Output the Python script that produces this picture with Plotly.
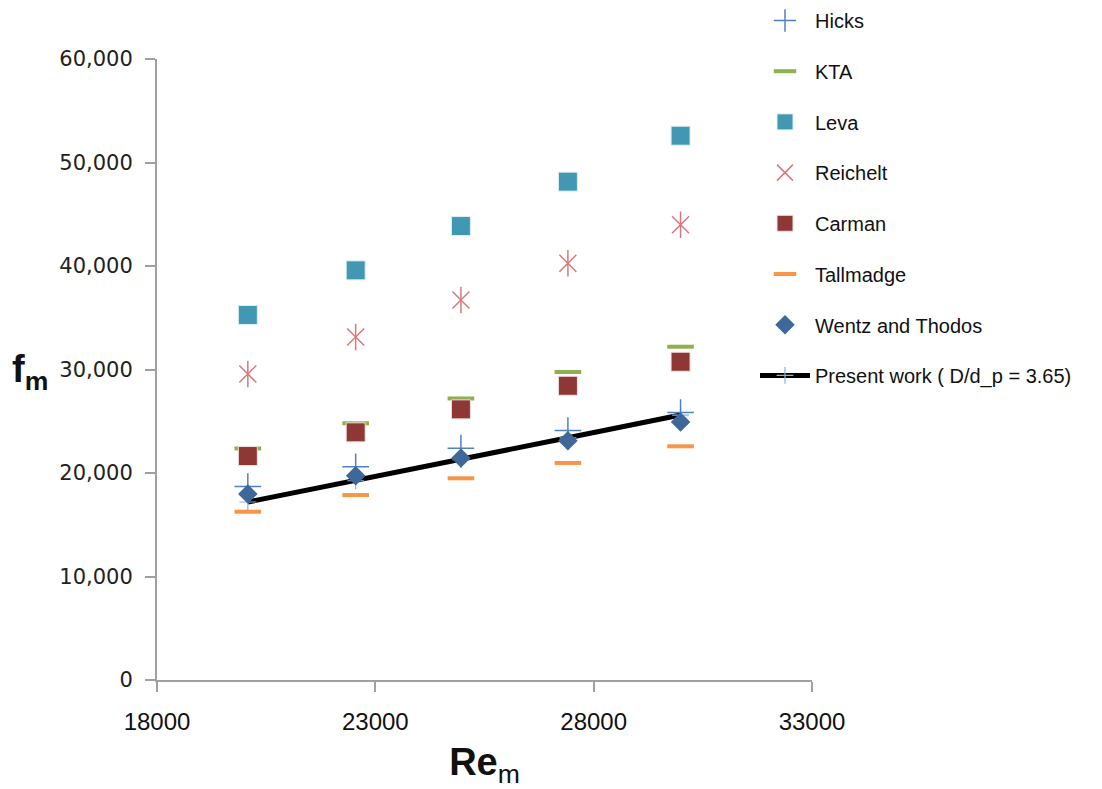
import plotly.graph_objects as go

# Modified Reynolds number
re_m = [20080, 22550, 24960, 27410, 29990]

# Friction factor from each correlation
hicks = [18700, 20600, 22400, 24100, 25850]
kta = [22370, 24800, 27200, 29760, 32200]
leva = [35270, 39580, 43860, 48150, 52590]
reichelt = [29570, 33140, 36710, 40260, 43990]
carman = [21640, 23930, 26150, 28430, 30750]
tallmadge = [16260, 17870, 19490, 20970, 22580]
wentz_thodos = [17970, 19740, 21450, 23120, 24930]
present_work = [17200, 19250, 21300, 23400, 25600]

fig = go.Figure()

# Present work line (drawn first so markers sit on top)
fig.add_trace(go.Scatter(
    x=re_m, y=present_work, name="Present work ( D/d_p = 3.65)",
    mode="lines+markers", legendgroup="g8", legendrank=8,
    line=dict(color="black", width=5),
    marker=dict(symbol="cross-thin", size=12, color="#8fb0d8",
                line=dict(color="#8fb0d8", width=1.2)),
))

fig.add_trace(go.Scatter(
    x=re_m, y=hicks, name="Hicks", mode="markers",
    legendgroup="g1", legendrank=1,
    marker=dict(symbol="cross-thin", size=19, color="#4F81BD",
                line=dict(color="#4F81BD", width=1.5)),
))
fig.add_trace(go.Scatter(
    x=re_m, y=kta, name="KTA", mode="markers",
    legendgroup="g2", legendrank=2,
    marker=dict(symbol="line-ew", size=19, color="#8DB050",
                line=dict(color="#8DB050", width=4)),
))
fig.add_trace(go.Scatter(
    x=re_m, y=leva, name="Leva", mode="markers",
    legendgroup="g3", legendrank=3,
    marker=dict(symbol="square", size=19, color="#4298B2",
                line=dict(color="#dff0f5", width=1)),
))
fig.add_trace(go.Scatter(
    x=re_m, y=reichelt, name="Reichelt", mode="markers",
    legendgroup="g4", legendrank=4,
    marker=dict(symbol="x-thin", size=17, color="#D9787A",
                line=dict(color="#D9787A", width=1.5)),
))
fig.add_trace(go.Scatter(
    x=re_m, y=reichelt, name="Reichelt", mode="markers",
    legendgroup="g4", showlegend=False, hoverinfo="skip",
    marker=dict(symbol="line-ns", size=19, color="#D9787A",
                line=dict(color="#D9787A", width=1.5)),
))
fig.add_trace(go.Scatter(
    x=re_m, y=carman, name="Carman", mode="markers",
    legendgroup="g5", legendrank=5,
    marker=dict(symbol="square", size=19, color="#8E3836",
                line=dict(color="#f3dede", width=1)),
))
fig.add_trace(go.Scatter(
    x=re_m, y=tallmadge, name="Tallmadge", mode="markers",
    legendgroup="g6", legendrank=6,
    marker=dict(symbol="line-ew", size=19, color="#F79646",
                line=dict(color="#F79646", width=4)),
))
fig.add_trace(go.Scatter(
    x=re_m, y=wentz_thodos, name="Wentz and Thodos", mode="markers",
    legendgroup="g7", legendrank=7,
    marker=dict(symbol="diamond", size=15, color="#3D6899",
                line=dict(color="#3D6899", width=0)),
))

axis_color = "#a0a0a0"
fig.update_layout(
    width=1102, height=789,
    paper_bgcolor="white", plot_bgcolor="white",
    margin=dict(l=157, r=290, t=59, b=109, autoexpand=False),
    font=dict(family="Liberation Sans", color="#111111"),
    xaxis=dict(
        range=[18000, 33000], tickvals=[18000, 23000, 28000, 33000],
        ticktext=["18000", "23000", "28000", "33000"],
        showgrid=False, zeroline=False, showline=True,
        linecolor=axis_color, linewidth=2,
        ticks="outside", ticklen=10, tickcolor=axis_color, tickwidth=1.5,
        ticklabelstandoff=9,
        tickfont=dict(family="Liberation Sans", size=24, color="#111111"),
        title=dict(text="<b>Re</b><sub>m</sub>", standoff=19,
                   font=dict(family="Liberation Sans", size=38, color="#111111")),
    ),
    yaxis=dict(
        range=[0, 60000], tickvals=[0, 10000, 20000, 30000, 40000, 50000, 60000],
        ticktext=["0", "10,000", "20,000", "30,000", "40,000", "50,000", "60,000"],
        showgrid=False, zeroline=False, showline=True,
        linecolor=axis_color, linewidth=2,
        ticks="outside", ticklen=10, tickcolor=axis_color, tickwidth=1.5,
        ticklabelstandoff=8,
        tickfont=dict(family="DejaVu Sans", size=21, color="#222222"),
    ),
    legend=dict(
        x=(755 - 157) / 655, xanchor="left", y=1 + (59 - 1) / 621, yanchor="top",
        font=dict(family="Liberation Sans", size=20, color="#111111"),
        tracegroupgap=21.7, bgcolor="rgba(0,0,0,0)", borderwidth=0,
        itemwidth=50, maxheight=780,
    ),
    annotations=[dict(
        text="<b>f<sub>m</sub></b>", xref="paper", yref="paper",
        x=(10 - 157) / 655, xanchor="left", y=(680 - 372) / 621, yanchor="middle",
        showarrow=False,
        font=dict(family="Liberation Sans", size=38, color="#111111"),
    )],
)

fig.write_html("out.html")
